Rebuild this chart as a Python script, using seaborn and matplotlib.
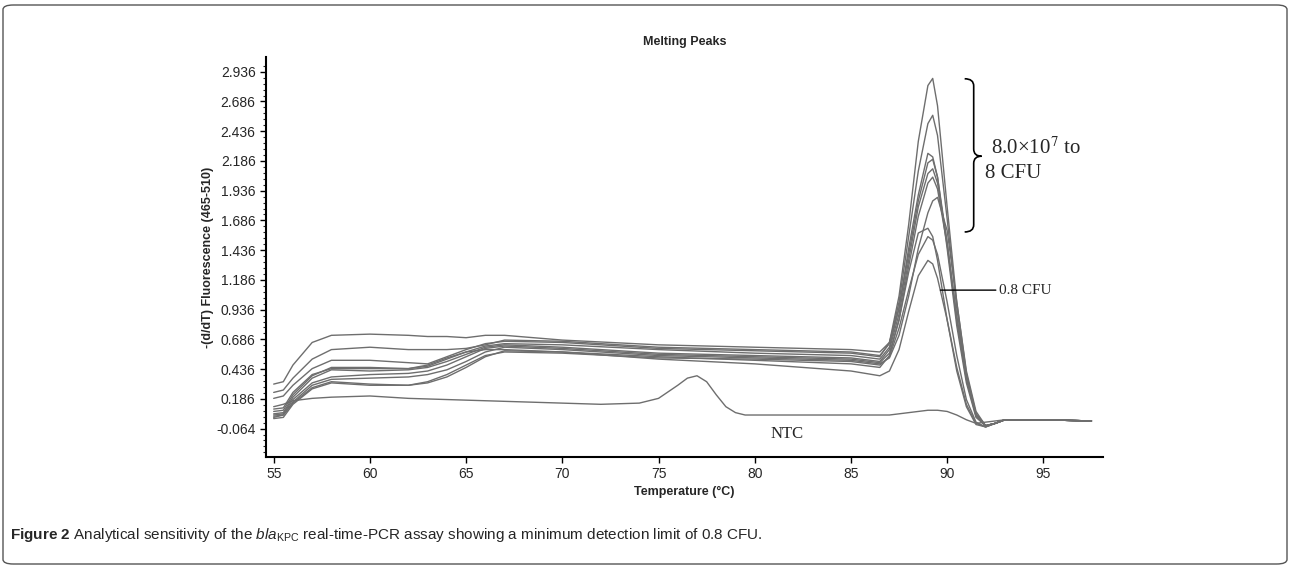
import numpy as np
import pandas as pd
import matplotlib
matplotlib.use('Agg')
import matplotlib.pyplot as plt
import seaborn as sns
from matplotlib.patches import FancyBboxPatch, PathPatch
from matplotlib.path import Path

# temperatures (deg C) at which the sample curves were read
temps = [55, 55.5, 56, 57, 58, 60, 62, 63, 64, 65, 66, 67, 70, 75, 80, 85, 86.5,
         87, 87.5, 88, 88.5, 89, 89.25, 89.5, 90, 90.5, 91, 91.5, 92, 92.5, 93, 95, 97.5]

tail = [-0.04, -0.02, 0.01, 0.01, 0.00]

curve_a = [0.31, 0.33, 0.47, 0.66, 0.72, 0.73, 0.72, 0.71, 0.71, 0.70, 0.72, 0.72, 0.68, 0.64, 0.62, 0.60, 0.58,
           0.66, 0.95, 1.40, 1.85, 2.17, 2.20, 2.05, 1.45, 0.80, 0.32, 0.03] + tail
curve_b = [0.24, 0.26, 0.36, 0.52, 0.60, 0.62, 0.60, 0.60, 0.60, 0.61, 0.64, 0.68, 0.67, 0.62, 0.60, 0.58, 0.55,
           0.65, 1.00, 1.55, 2.10, 2.50, 2.57, 2.40, 1.70, 0.95, 0.38, 0.05] + tail
curve_c = [0.19, 0.21, 0.30, 0.44, 0.51, 0.51, 0.49, 0.48, 0.54, 0.60, 0.65, 0.67, 0.66, 0.61, 0.59, 0.57, 0.54,
           0.66, 1.05, 1.65, 2.35, 2.82, 2.88, 2.65, 1.80, 1.00, 0.40, 0.06] + tail
curve_d = [0.10, 0.11, 0.24, 0.39, 0.44, 0.44, 0.44, 0.46, 0.52, 0.58, 0.63, 0.65, 0.64, 0.60, 0.57, 0.55, 0.52,
           0.62, 0.95, 1.45, 1.90, 2.25, 2.22, 2.05, 1.50, 0.85, 0.35, 0.04] + tail
curve_e = [0.06, 0.07, 0.20, 0.36, 0.43, 0.42, 0.43, 0.45, 0.50, 0.56, 0.62, 0.64, 0.62, 0.57, 0.55, 0.53, 0.50,
           0.60, 0.90, 1.35, 1.80, 2.08, 2.12, 2.00, 1.50, 0.85, 0.36, 0.05] + tail
curve_f = [0.05, 0.06, 0.18, 0.32, 0.37, 0.39, 0.40, 0.42, 0.47, 0.54, 0.61, 0.63, 0.61, 0.56, 0.54, 0.52, 0.49,
           0.57, 0.85, 1.30, 1.72, 2.00, 2.05, 1.95, 1.48, 0.88, 0.38, 0.06] + tail
curve_g = [0.03, 0.05, 0.16, 0.30, 0.35, 0.36, 0.37, 0.39, 0.43, 0.50, 0.58, 0.62, 0.60, 0.55, 0.53, 0.51, 0.48,
           0.53, 0.72, 1.05, 1.45, 1.75, 1.85, 1.88, 1.60, 1.00, 0.42, 0.08] + tail
curve_h = [0.04, 0.05, 0.15, 0.28, 0.33, 0.31, 0.30, 0.32, 0.37, 0.45, 0.54, 0.59, 0.58, 0.54, 0.51, 0.48, 0.45,
           0.55, 0.85, 1.25, 1.58, 1.62, 1.55, 1.35, 0.85, 0.42, 0.12, -0.03, -0.05, -0.02, 0.01, 0.01, 0.00]
curve_i = [0.02, 0.03, 0.14, 0.27, 0.32, 0.30, 0.30, 0.33, 0.39, 0.47, 0.55, 0.58, 0.57, 0.53, 0.52, 0.50, 0.47,
           0.54, 0.78, 1.10, 1.40, 1.55, 1.52, 1.40, 1.00, 0.55, 0.18, -0.01, -0.05, -0.02, 0.01, 0.01, 0.00]
# 0.8 CFU
curve_j = [0.08, 0.09, 0.22, 0.38, 0.45, 0.45, 0.44, 0.47, 0.53, 0.58, 0.60, 0.60, 0.58, 0.52, 0.48, 0.42, 0.38,
           0.42, 0.60, 0.92, 1.22, 1.35, 1.32, 1.20, 0.85, 0.45, 0.14, -0.02, -0.05, -0.02, 0.01, 0.01, 0.00]

samples = [curve_a, curve_b, curve_c, curve_d, curve_e, curve_f, curve_g, curve_h, curve_i, curve_j]

# no template control
ntc_temps = [55, 55.5, 56, 57, 58, 60, 62, 64, 66, 70, 72, 74, 75, 76, 76.5, 77, 77.5, 78, 78.5, 79,
             79.5, 80, 85, 87, 88, 89, 89.5, 90, 90.5, 91, 91.5, 92, 93, 95, 97.5]
ntc = [0.12, 0.14, 0.17, 0.19, 0.20, 0.21, 0.19, 0.18, 0.17, 0.15, 0.14, 0.15, 0.19, 0.30, 0.36, 0.38, 0.33,
       0.22, 0.12, 0.07, 0.05, 0.05, 0.05, 0.05, 0.07, 0.09, 0.09, 0.08, 0.05, 0.01, -0.02, -0.01, 0.01, 0.01, 0.00]

x_ticks = [55, 60, 65, 70, 75, 80, 85, 90, 95]
y_ticks = [-0.064, 0.186, 0.436, 0.686, 0.936, 1.186, 1.436, 1.686, 1.936, 2.186, 2.436, 2.686, 2.936]

sns.set_style('ticks')
plt.rcParams['font.family'] = ['Liberation Sans', 'DejaVu Sans']
plt.rcParams['mathtext.fontset'] = 'custom'
plt.rcParams['mathtext.rm'] = 'Liberation Sans'
plt.rcParams['mathtext.it'] = 'Liberation Sans:italic'
plt.rcParams['mathtext.bf'] = 'Liberation Sans:bold'

fig = plt.figure(figsize=(12.9, 5.68), dpi=100)
ax = fig.add_axes([266 / 1290, 1 - 457 / 568, 837 / 1290, 400 / 568])

line_col = '#6e6e6e'
for vals in samples:
    sns.lineplot(x=temps, y=vals, ax=ax, color=line_col, lw=1.0)
sns.lineplot(x=ntc_temps, y=ntc, ax=ax, color=line_col, lw=1.0)

ax.set_xlim(54.6, 98.1)
ax.set_ylim(-0.303, 3.06)
ax.set_xticks(x_ticks)
ax.set_yticks(y_ticks)
ax.set_yticklabels([f'{v:.3f}' for v in y_ticks])
ax.set_yticks([y_ticks[0] + 0.05 * k for k in range(-4, 62)], minor=True)
ax.tick_params(axis='both', labelsize=10, length=4, width=1, color='black')
ax.tick_params(axis='y', which='minor', length=2, width=0.8)
sns.despine(ax=ax)
for s in ['left', 'bottom']:
    ax.spines[s].set_linewidth(1.5)
    ax.spines[s].set_color('black')

ax.set_title('Melting Peaks', fontweight='heavy', fontsize=9, pad=9)
ax.set_ylabel('-(d/dT) Fluorescence (465-510)', fontweight='bold', fontsize=9)
ax.yaxis.set_label_coords(-0.062, 0.5)
ax.set_xlabel('Temperature (°C)', fontweight='bold', fontsize=9)
ax.xaxis.set_label_coords(0.5, -0.072)

# annotations
serif = ['Liberation Serif', 'DejaVu Serif']
ax.text(92.3, 2.25, r'8.0×10$^7$ to', fontsize=15, family=serif, math_fontfamily='stix', va='baseline')
ax.text(91.95, 2.04, '8 CFU', fontsize=15, family=serif, va='baseline')
ax.annotate('0.8 CFU', xy=(89.65, 1.10), xytext=(92.7, 1.10), fontsize=11, family=serif,
            va='center', ha='left',
            arrowprops=dict(arrowstyle='-', lw=1, color='black', shrinkA=0, shrinkB=0))
ax.text(81.7, -0.11, 'NTC', fontsize=12, family=serif, ha='center', va='center')

# curly brace
bx, hx, tx = 91.38, 90.91, 91.79
yt, ym, yb = 2.877, 2.226, 1.589
verts = [(hx, yt), (bx, yt), (bx, yt - 0.06),
         (bx, ym + 0.06), (bx, ym), (tx, ym),
         (bx, ym), (bx, ym - 0.06),
         (bx, yb + 0.06), (bx, yb), (hx, yb)]
codes = [Path.MOVETO, Path.CURVE3, Path.CURVE3,
         Path.LINETO, Path.CURVE3, Path.CURVE3,
         Path.CURVE3, Path.CURVE3,
         Path.LINETO, Path.CURVE3, Path.CURVE3]
ax.add_patch(PathPatch(Path(verts, codes), fill=False, lw=1.2, color='black', clip_on=False))

# caption and frame
fig.text(10 / 1290, 1 - 535 / 568,
         r'$\mathbf{Figure\ 2}$ Analytical sensitivity of the $\mathit{bla}_{\mathrm{KPC}}$ '
         'real-time-PCR assay showing a minimum detection limit of 0.8 CFU.',
         fontsize=11, va='center', math_fontfamily='custom')
frame = FancyBboxPatch((3 / 1290, 4 / 568), 1284 / 1290, 559 / 568,
                       boxstyle='round,pad=0,rounding_size=0.008', transform=fig.transFigure,
                       fill=False, lw=1, edgecolor='#555555')
fig.patches.append(frame)

fig.savefig('out.png', dpi=100)
